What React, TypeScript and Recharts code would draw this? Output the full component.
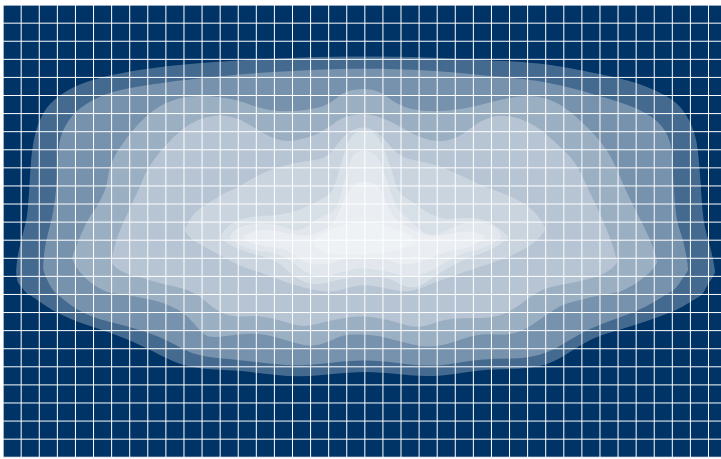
import { AreaChart, Area, XAxis, YAxis, CartesianGrid } from "recharts";

// contour bands, outermost first: x, upper edge, lower edge
const x1 = [13, 14, 17, 20, 25, 27, 30, 40, 54, 74, 110, 147, 184, 237, 297, 362, 427, 477, 527, 557, 587, 627, 657, 674, 685, 694, 697, 700, 704, 710, 712];
const top1 = [267, 253, 240, 227, 210, 165, 132, 105, 92, 79, 69, 63, 59, 55, 52, 51, 52, 55, 57, 61, 67, 75, 87, 97, 112, 132, 170, 217, 230, 253, 267];
const bottom1 = [267, 277, 280, 284, 290, 290, 292, 299, 308, 317, 328, 344, 365, 364, 375, 363, 375, 363, 365, 355, 332, 322, 311, 305, 298, 293, 291, 289, 280, 272, 267];

const x2 = [40, 41, 45, 50, 54, 55, 59, 72, 94, 117, 164, 190, 237, 297, 362, 427, 477, 527, 557, 584, 634, 654, 664, 669, 670, 673, 679, 684, 685];
const top2 = [263, 245, 227, 210, 178, 142, 125, 105, 92, 84, 77, 74, 69, 65, 63, 65, 70, 74, 80, 87, 102, 115, 128, 142, 175, 217, 230, 253, 265];
const bottom2 = [263, 268, 277, 286, 289, 290, 293, 304, 314, 319, 333, 352, 354, 364, 351, 365, 352, 355, 342, 323, 307, 295, 289, 286, 285, 283, 274, 267, 265];

const x3 = [69, 72, 85, 94, 104, 105, 110, 124, 140, 160, 180, 190, 200, 210, 237, 257, 280, 307, 325, 337, 347, 374, 384, 400, 427, 454, 477, 510, 534, 557, 577, 597, 610, 617, 624, 634, 650, 654];
const top3 = [253, 243, 213, 202, 182, 168, 152, 132, 113, 98, 92, 91, 91, 91, 95, 104, 107, 105, 100, 90, 84, 84, 92, 103, 107, 105, 100, 91, 90, 98, 115, 135, 155, 172, 188, 208, 240, 257];
const bottom3 = [253, 262, 276, 282, 287, 287, 288, 290, 293, 297, 307, 317, 330, 333, 329, 328, 334, 343, 337, 331, 329, 330, 333, 337, 344, 336, 327, 332, 317, 299, 295, 290, 288, 287, 283, 278, 265, 257];

const x4 = [109, 110, 120, 125, 130, 137, 142, 150, 164, 180, 197, 217, 237, 257, 280, 300, 320, 337, 350, 374, 400, 417, 440, 460, 477, 497, 517, 537, 557, 574, 584, 597, 610, 614];
const top4 = [257, 243, 217, 208, 195, 182, 168, 155, 138, 123, 113, 109, 113, 127, 138, 134, 127, 113, 109, 109, 123, 133, 138, 130, 115, 109, 113, 123, 142, 158, 182, 208, 240, 257];
const bottom4 = [257, 261, 267, 269, 271, 272, 274, 276, 280, 283, 290, 310, 312, 310, 316, 323, 317, 314, 311, 312, 319, 324, 314, 313, 313, 312, 300, 284, 280, 277, 274, 271, 263, 257];

const x5 = [182, 187, 194, 204, 220, 237, 254, 274, 300, 324, 334, 344, 360, 377, 394, 410, 437, 470, 497, 517, 534, 542];
const top5 = [224, 213, 205, 199, 188, 182, 170, 162, 156, 154, 139, 127, 120, 127, 151, 155, 160, 177, 187, 195, 208, 223];
const bottom5 = [226, 233, 238, 243, 252, 261, 266, 274, 283, 287, 286, 283, 279, 282, 286, 287, 275, 264, 255, 247, 236, 225];

const x6 = [218, 224, 244, 270, 284, 297, 317, 330, 335, 344, 350, 362, 374, 380, 390, 394, 407, 420, 440, 470, 490, 505];
const top6 = [231, 220, 211, 211, 208, 205, 195, 188, 168, 138, 128, 125, 128, 142, 168, 188, 195, 205, 216, 211, 218, 231];
const bottom6 = [233, 239, 248, 253, 265, 277, 280, 276, 275, 273, 272, 271, 272, 272, 275, 278, 284, 280, 265, 250, 245, 233];

const x7 = [227, 232, 249, 272, 287, 300, 310, 327, 334, 339, 344, 350, 360, 374, 380, 387, 394, 404, 420, 434, 454, 477, 494, 498];
const top7 = [231, 223, 218, 218, 225, 226, 215, 208, 203, 185, 165, 147, 145, 148, 165, 185, 205, 212, 229, 231, 219, 215, 222, 231];
const bottom7 = [233, 237, 246, 247, 255, 265, 272, 271, 268, 267, 266, 264, 263, 265, 266, 267, 269, 273, 269, 263, 249, 245, 236, 233];

const x8 = [240, 247, 260, 282, 299, 310, 327, 334, 340, 350, 360, 374, 380, 387, 397, 417, 430, 450, 467, 482];
const top8 = [231, 227, 224, 227, 231, 230, 222, 212, 195, 178, 176, 178, 188, 209, 218, 228, 232, 228, 225, 231];
const bottom8 = [233, 238, 242, 242, 257, 260, 259, 256, 254, 253, 252, 253, 254, 256, 260, 258, 251, 245, 243, 233];

const x9 = [310, 314, 334, 360, 387, 410, 413];
const top9 = [237, 230, 222, 214, 222, 230, 237];
const bottom9 = [239, 245, 251, 249, 248, 240, 239];

const bands = [
  [x1, top1, bottom1],
  [x2, top2, bottom2],
  [x3, top3, bottom3],
  [x4, top4, bottom4],
  [x5, top5, bottom5],
  [x6, top6, bottom6],
  [x7, top7, bottom7],
  [x8, top8, bottom8],
  [x9, top9, bottom9],
];

const gridX = Array.from({ length: 40 }, (_, i) => i * 18.087);
const gridY = Array.from({ length: 26 }, (_, i) => i * 18.087);

export default function App() {
  return (
    <div style={{ position: "absolute", left: 0, top: 0, width: 721, height: 459, background: "#fff" }}>
      <AreaChart width={721} height={459} margin={{ top: 5.07, right: 0, bottom: 1.7, left: 3.1 }}>
        <XAxis type="number" dataKey="x" domain={[0, 717.9]} ticks={gridX} interval={0} hide allowDataOverflow />
        <YAxis type="number" domain={[0, 452.23]} ticks={gridY} interval={0} reversed hide allowDataOverflow />
        <CartesianGrid fill="#003366" horizontal={false} vertical={false} />
        {bands.map(([xs, tops, bottoms], i) => (
          <Area
            key={i}
            data={xs.map((x, j) => ({ x, range: [tops[j], bottoms[j]] }))}
            dataKey="range"
            type="basis"
            fill="#fff"
            fillOpacity={0.27}
            stroke="none"
            dot={false}
            activeDot={false}
            isAnimationActive={false}
          />
        ))}
        <CartesianGrid stroke="#fff" strokeWidth={1} syncWithTicks zIndex={1000} />
      </AreaChart>
    </div>
  );
}
